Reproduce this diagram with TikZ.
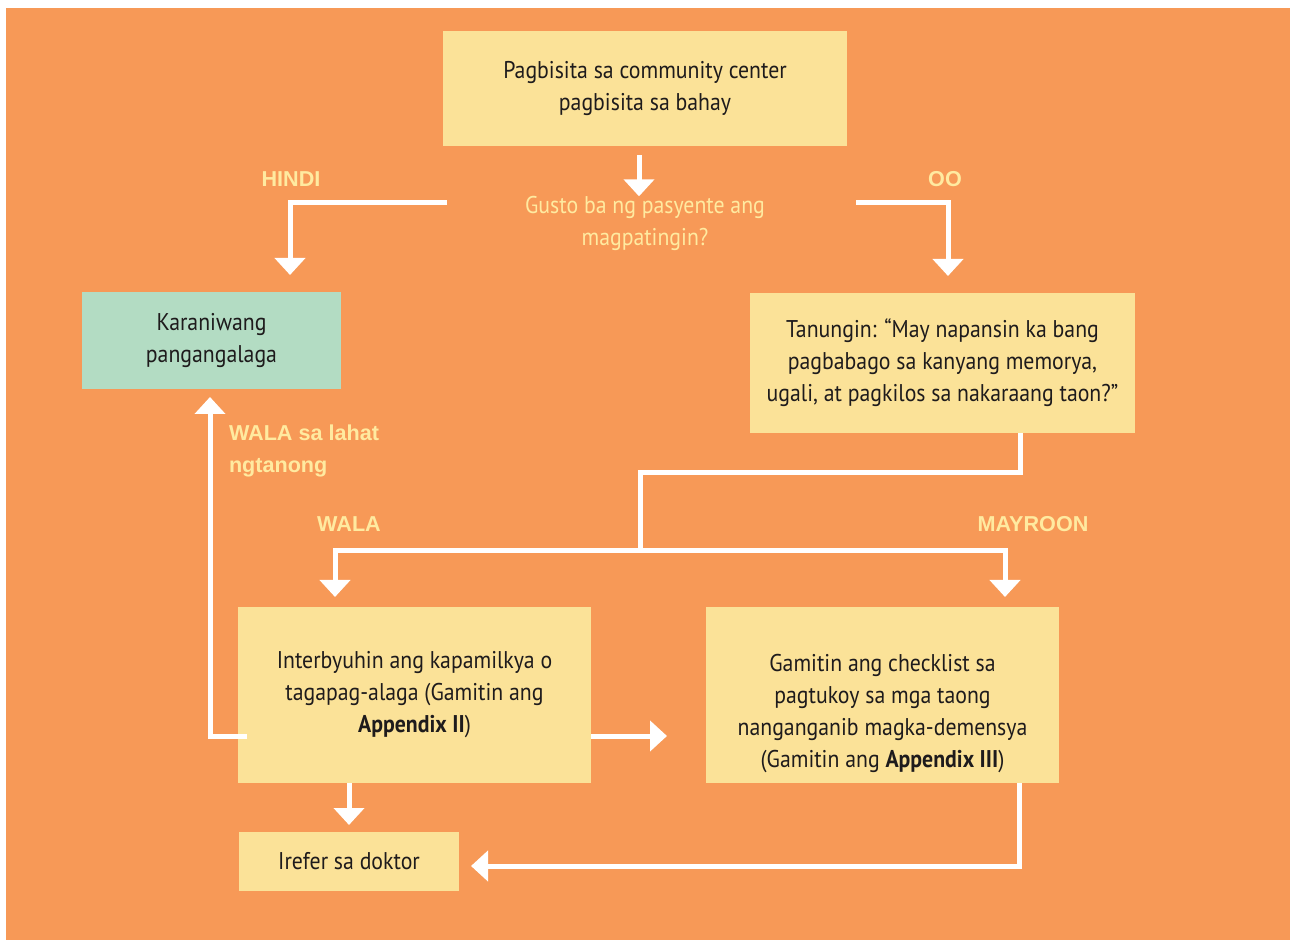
\documentclass[tikz,border=0pt]{standalone}
\usepackage{fontspec}
\setmainfont{PT Sans}[FakeStretch=0.9]
\newfontfamily\lblfont{Liberation Sans}
\usetikzlibrary{arrows.meta}
\definecolor{bgorange}{RGB}{247,153,87}
\definecolor{boxyellow}{RGB}{251,226,152}
\definecolor{boxgreen}{RGB}{179,220,195}
\definecolor{lblyellow}{RGB}{255,234,160}
\definecolor{txtdark}{RGB}{30,27,28}
\begin{document}
\begin{tikzpicture}[x=0.5pt,y=-0.5pt,inner sep=0pt,outer sep=0pt,line width=2.5pt,
>={Triangle[width=15pt,length=8.5pt]},
flowbox/.style={fill=boxyellow,rectangle,text=txtdark,align=center,font=\fontsize{12.1}{16}\selectfont},
caption/.style={text=lblyellow,font=\lblfont\bfseries\fontsize{10.8}{16}\selectfont},
flowline/.style={draw=white,->}]
\fill[white] (0,0) rectangle (1290,940);
\fill[bgorange] (6,8) rectangle (1290,940);
\draw (645,88.5) node[flowbox,minimum width=202pt,minimum height=57.5pt] (visit) {Pagbisita sa community center\\pagbisita sa bahay};
\draw (645,223.5) node[flowbox,fill=none,text=lblyellow] (ask) {Gusto ba ng pasyente ang\\magpatingin?};
\draw (211.5,340.5) node[flowbox,fill=boxgreen,minimum width=129.5pt,minimum height=48.5pt] (usual) {Karaniwang\\pangangalaga};
\draw (942.5,363) node[flowbox,minimum width=192.5pt,minimum height=70pt] (askfam) {Tanungin: ``May napansin ka bang\\pagbabago sa kanyang memorya,\\ugali, at pagkilos sa nakaraang taon?''};
\draw (414.5,695) node[flowbox,minimum width=176.5pt,minimum height=88pt] (interview) {Interbyuhin ang kapamilkya o\\tagapag-alaga (Gamitin ang\\\textbf{Appendix II})};
\draw (882.5,695) node[flowbox,minimum width=176.5pt,minimum height=88pt] (checklist) {\strut\\Gamitin ang checklist sa\\pagtukoy sa mga taong\\nanganganib magka-demensya\\(Gamitin ang \textbf{Appendix III})};
\draw (349,861.5) node[flowbox,minimum width=110pt,minimum height=29.5pt] (refer) {Irefer sa doktor};
\draw (291,179) node[caption] (hindi) {HINDI};
\draw (945,179) node[caption] (oo) {OO};
\draw (349,524) node[caption] (wala) {WALA};
\draw (1033,524) node[caption] (mayroon) {MAYROON};
\draw (229,451) node[caption,anchor=west,align=left] (walaall) {WALA sa lahat\\ngtanong};
\coordinate (nostart) at (447,203);
\coordinate (yesstart) at (856,203);
\coordinate (split) at (640,551);
\draw[flowline,shorten <=4.5pt] ([xshift=-3pt]visit.south) -- ([xshift=-3pt]ask.north);
\draw[flowline] (nostart) -| ([xshift=39.25pt,yshift=8.5pt]usual.north);
\draw[flowline] (yesstart) -| ([xshift=2.75pt,yshift=8.5pt]askfam.north);
\draw[white] ([xshift=38.75pt]askfam.south) -- ++(0,40) -| (split);
\draw[flowline] (split) -| ([xshift=-39.75pt,yshift=5pt]interview.north);
\draw[flowline] (split) -| ([xshift=61.25pt,yshift=5pt]checklist.north);
\draw[flowline] ([yshift=-20.5pt]interview.east) -- ([xshift=-19.5pt,yshift=-20.5pt]checklist.west);
\draw[flowline] ([xshift=4.5pt,yshift=-20.5pt]interview.west) -| ([xshift=-0.75pt,yshift=-4pt]usual.south);
\draw[flowline] (interview.south -| refer.north) -- ([yshift=3.5pt]refer.north);
\draw[flowline] ([xshift=68.25pt]checklist.south) |- ([xshift=6pt,yshift=-2.25pt]refer.east);
\end{tikzpicture}
\end{document}
